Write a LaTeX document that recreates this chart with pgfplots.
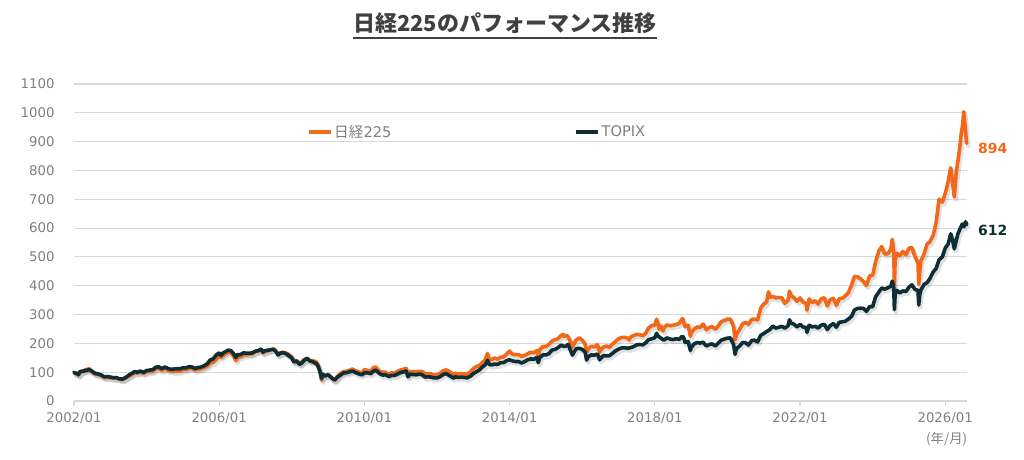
\documentclass[border=0pt]{standalone}
\usepackage{fontspec}
\setmainfont{DejaVu Sans}
\newfontfamily\jp{Noto Sans CJK JP}
\usepackage{pgfplots}
\usepackage{pgfplotstable}
\pgfplotsset{compat=1.18}
\definecolor{nkorange}{RGB}{242,104,24}
\definecolor{tpdark}{RGB}{13,46,52}
\definecolor{tickgray}{RGB}{128,128,128}
\definecolor{gridgray}{RGB}{217,217,217}
\definecolor{titlegray}{RGB}{64,64,64}

\pgfplotstableread{
t v
2002.00 100
2002.04 95
2002.08 95
2002.12 90
2002.17 100
2002.25 105
2002.33 109
2002.42 112
2002.50 101
2002.58 94
2002.67 91
2002.75 89
2002.83 82
2002.92 81
2003.00 82
2003.08 79
2003.17 80
2003.25 76
2003.33 74
2003.42 80
2003.50 86
2003.58 91
2003.67 98
2003.75 97
2003.83 101
2003.92 96
2004.00 102
2004.08 102
2004.17 104
2004.25 112
2004.33 113
2004.42 107
2004.50 113
2004.58 107
2004.67 105
2004.75 103
2004.83 104
2004.92 104
2005.00 110
2005.08 109
2005.17 113
2005.25 113
2005.33 108
2005.42 110
2005.50 112
2005.58 116
2005.67 121
2005.75 132
2005.83 134
2005.92 146
2006.00 159
2006.05 151
2006.10 158
2006.17 163
2006.25 170
2006.33 167
2006.40 155
2006.46 140
2006.50 152
2006.58 153
2006.67 160
2006.75 160
2006.83 162
2006.92 164
2007.00 172
2007.08 173
2007.15 180
2007.21 167
2007.25 172
2007.33 174
2007.42 178
2007.50 181
2007.56 174
2007.62 161
2007.67 167
2007.75 169
2007.83 167
2007.92 161
2008.00 153
2008.06 137
2008.12 141
2008.17 137
2008.21 129
2008.27 135
2008.33 143
2008.42 148
2008.50 140
2008.58 140
2008.67 136
2008.71 129
2008.75 115
2008.79 92
2008.82 72
2008.86 90
2008.92 86
2009.00 92
2009.08 82
2009.12 79
2009.18 71
2009.25 85
2009.33 94
2009.42 102
2009.50 103
2009.58 106
2009.67 111
2009.75 105
2009.83 102
2009.92 96
2010.00 109
2010.08 106
2010.17 103
2010.25 116
2010.31 118
2010.42 103
2010.50 100
2010.58 100
2010.67 92
2010.75 98
2010.83 97
2010.92 103
2011.00 108
2011.08 110
2011.15 114
2011.20 90
2011.25 102
2011.33 102
2011.42 101
2011.50 103
2011.58 103
2011.67 95
2011.75 95
2011.83 94
2011.92 90
2012.00 91
2012.08 96
2012.17 105
2012.25 108
2012.33 103
2012.42 95
2012.46 91
2012.50 96
2012.58 94
2012.67 95
2012.75 94
2012.83 93
2012.92 101
2013.00 112
2013.08 119
2013.17 123
2013.25 134
2013.33 142
2013.39 165
2013.44 145
2013.50 143
2013.58 149
2013.67 145
2013.75 152
2013.83 153
2013.92 163
2014.00 173
2014.08 162
2014.17 161
2014.25 161
2014.33 155
2014.42 158
2014.50 164
2014.58 169
2014.67 167
2014.75 175
2014.79 157
2014.83 178
2014.92 189
2015.00 189
2015.08 196
2015.17 208
2015.25 213
2015.33 216
2015.42 228
2015.48 231
2015.50 224
2015.58 228
2015.67 209
2015.73 187
2015.75 192
2015.83 211
2015.92 219
2016.00 211
2016.08 198
2016.12 169
2016.17 181
2016.25 190
2016.33 188
2016.42 195
2016.48 169
2016.50 176
2016.58 187
2016.67 191
2016.75 186
2016.83 197
2016.92 207
2017.00 216
2017.08 220
2017.17 221
2017.25 218
2017.30 212
2017.33 222
2017.42 227
2017.50 231
2017.58 230
2017.67 227
2017.75 235
2017.83 254
2017.92 262
2018.00 263
2018.05 284
2018.08 272
2018.12 249
2018.17 260
2018.23 243
2018.25 253
2018.33 264
2018.42 261
2018.50 263
2018.58 265
2018.67 269
2018.75 284
2018.77 286
2018.83 258
2018.92 263
2018.98 225
2019.00 236
2019.08 249
2019.17 257
2019.25 255
2019.33 267
2019.42 247
2019.50 255
2019.58 258
2019.67 249
2019.75 261
2019.83 275
2019.92 280
2020.00 284
2020.08 284
2020.17 259
2020.21 212
2020.25 231
2020.33 247
2020.42 268
2020.50 273
2020.58 266
2020.67 283
2020.75 284
2020.83 281
2020.92 323
2021.00 336
2021.08 344
2021.13 379
2021.17 360
2021.25 363
2021.33 358
2021.42 359
2021.50 358
2021.58 339
2021.67 349
2021.71 381
2021.75 366
2021.83 359
2021.92 346
2022.00 358
2022.08 344
2022.17 338
2022.19 315
2022.25 354
2022.33 342
2022.42 348
2022.50 336
2022.58 354
2022.67 358
2022.75 330
2022.83 351
2022.92 356
2023.00 332
2023.08 355
2023.17 357
2023.25 365
2023.33 375
2023.42 402
2023.50 432
2023.58 431
2023.67 424
2023.75 414
2023.83 401
2023.92 435
2024.00 435
2024.08 482
2024.17 520
2024.25 536
2024.33 510
2024.42 511
2024.50 526
2024.54 561
2024.58 519
2024.60 405
2024.62 490
2024.67 513
2024.75 504
2024.83 519
2024.92 507
2025.00 530
2025.08 533
2025.17 500
2025.25 480
2025.27 405
2025.30 450
2025.33 486
2025.42 511
2025.50 545
2025.58 553
2025.67 575
2025.75 620
2025.83 700
2025.92 690
2026.00 720
2026.08 760
2026.15 809
2026.20 760
2026.25 708
2026.30 790
2026.35 833
2026.40 880
2026.44 926
2026.48 960
2026.51 1004
2026.55 950
2026.59 894
}\nikkei

\pgfplotstableread{
t v
2002.00 100
2002.04 96
2002.08 97
2002.12 91
2002.17 103
2002.25 103
2002.33 106
2002.42 109
2002.50 103
2002.58 96
2002.67 94
2002.75 90
2002.83 84
2002.92 85
2003.00 83
2003.08 81
2003.17 81
2003.25 77
2003.33 76
2003.42 81
2003.50 89
2003.58 95
2003.67 102
2003.75 100
2003.83 104
2003.92 99
2004.00 106
2004.08 107
2004.17 109
2004.25 117
2004.33 119
2004.42 112
2004.50 118
2004.58 113
2004.67 110
2004.75 111
2004.83 112
2004.92 112
2005.00 115
2005.08 115
2005.17 119
2005.25 118
2005.33 113
2005.42 116
2005.50 118
2005.58 122
2005.67 129
2005.75 142
2005.83 146
2005.92 160
2006.00 167
2006.05 158
2006.10 166
2006.17 171
2006.25 177
2006.33 174
2006.40 163
2006.46 151
2006.50 161
2006.58 161
2006.67 167
2006.75 166
2006.83 166
2006.92 167
2007.00 173
2007.08 175
2007.15 180
2007.21 169
2007.25 174
2007.33 176
2007.42 178
2007.50 179
2007.56 172
2007.62 160
2007.67 165
2007.75 168
2007.83 165
2007.92 157
2008.00 149
2008.06 135
2008.12 139
2008.17 134
2008.21 127
2008.27 131
2008.33 140
2008.42 148
2008.50 139
2008.58 136
2008.67 130
2008.71 124
2008.75 112
2008.79 95
2008.82 78
2008.86 93
2008.92 87
2009.00 91
2009.08 83
2009.12 78
2009.18 73
2009.25 82
2009.33 89
2009.42 97
2009.50 98
2009.58 101
2009.67 104
2009.75 99
2009.83 95
2009.92 91
2010.00 97
2010.08 98
2010.17 95
2010.25 104
2010.31 107
2010.42 95
2010.50 90
2010.58 91
2010.67 85
2010.75 89
2010.83 89
2010.92 94
2011.00 99
2011.08 101
2011.15 104
2011.20 84
2011.25 93
2011.33 92
2011.42 91
2011.50 93
2011.58 92
2011.67 83
2011.75 84
2011.83 83
2011.92 80
2012.00 80
2012.08 84
2012.17 92
2012.25 95
2012.33 89
2012.42 82
2012.46 79
2012.50 84
2012.58 82
2012.67 83
2012.75 82
2012.83 80
2012.92 86
2013.00 95
2013.08 101
2013.17 108
2013.25 118
2013.33 126
2013.39 141
2013.44 127
2013.50 125
2013.58 128
2013.67 127
2013.75 133
2013.83 133
2013.92 140
2014.00 143
2014.08 139
2014.17 137
2014.25 137
2014.33 132
2014.42 137
2014.50 143
2014.58 146
2014.67 145
2014.75 151
2014.79 133
2014.83 151
2014.92 160
2015.00 160
2015.08 164
2015.17 177
2015.25 179
2015.33 185
2015.42 194
2015.50 189
2015.58 192
2015.61 197
2015.67 178
2015.73 159
2015.75 164
2015.83 181
2015.92 183
2016.00 179
2016.08 170
2016.12 142
2016.17 154
2016.25 160
2016.33 159
2016.42 163
2016.48 143
2016.50 147
2016.58 157
2016.67 157
2016.75 157
2016.83 165
2016.92 174
2017.00 180
2017.08 184
2017.17 185
2017.25 183
2017.33 185
2017.42 189
2017.50 195
2017.58 196
2017.67 195
2017.75 202
2017.83 213
2017.92 216
2018.00 220
2018.05 235
2018.08 226
2018.17 218
2018.25 211
2018.33 219
2018.42 215
2018.50 213
2018.58 216
2018.67 214
2018.75 224
2018.79 222
2018.83 203
2018.92 206
2018.98 175
2019.00 185
2019.08 198
2019.17 203
2019.25 201
2019.33 204
2019.42 191
2019.50 196
2019.58 198
2019.67 191
2019.75 201
2019.83 211
2019.92 215
2020.00 218
2020.08 219
2020.17 196
2020.21 162
2020.25 182
2020.33 190
2020.42 203
2020.50 202
2020.58 194
2020.67 210
2020.75 211
2020.83 205
2020.92 228
2021.00 234
2021.08 241
2021.17 248
2021.25 260
2021.33 253
2021.42 256
2021.50 259
2021.58 253
2021.67 261
2021.71 282
2021.75 270
2021.83 267
2021.92 257
2022.00 266
2022.08 257
2022.17 255
2022.19 238
2022.25 263
2022.33 257
2022.42 259
2022.50 253
2022.58 263
2022.67 266
2022.75 248
2022.83 261
2022.92 269
2023.00 256
2023.08 273
2023.17 275
2023.25 277
2023.33 284
2023.42 294
2023.50 316
2023.58 321
2023.67 322
2023.75 321
2023.83 311
2023.92 328
2024.00 327
2024.08 361
2024.17 378
2024.25 392
2024.33 388
2024.42 393
2024.50 398
2024.54 416
2024.58 397
2024.60 317
2024.62 370
2024.67 384
2024.75 375
2024.83 382
2024.92 380
2025.00 395
2025.08 403
2025.17 387
2025.25 384
2025.27 333
2025.30 370
2025.33 385
2025.42 405
2025.50 411
2025.58 425
2025.67 448
2025.75 460
2025.83 490
2025.92 500
2026.00 530
2026.08 545
2026.15 580
2026.20 560
2026.25 528
2026.30 555
2026.35 580
2026.40 595
2026.47 614
2026.52 605
2026.56 622
2026.59 612
}\topix

\begin{document}
\begin{tikzpicture}
\path[use as bounding box] (0,0) rectangle (768pt,345pt);
% title
\node[inner sep=0pt, anchor=base, text=titlegray, font=\jp\bfseries\fontsize{16.5}{18}\selectfont] (title) at (378.75pt,321pt) {日経225のパフォーマンス推移};
\draw[titlegray, line width=1.3pt] ([yshift=-4.5pt]title.base west) -- ([yshift=-4.5pt]title.base east);
% unit note
\node[anchor=center, text=tickgray, font=\jp\fontsize{10}{12}\selectfont] at (710pt,15.75pt) {(年/月)};
\begin{axis}[
  at={(55.5pt,44.25pt)}, anchor=south west,
  scale only axis, width=669.75pt, height=237.75pt,
  xmin=2002, xmax=2026.6, ymin=0, ymax=1100,
  clip=false,
  axis line style={draw=none},
  ymajorgrids, grid style={gridgray, line width=0.8pt},
  ytick={0,100,...,1100},
  xtick={2002,2006,2010,2014,2018,2022,2026},
  xticklabels={2002/01,2006/01,2010/01,2014/01,2018/01,2022/01,2026/01},
  tick pos=left,
  tick align=outside,
  ytick style={draw=none},
  xtick style={draw=gridgray, line width=0.8pt},
  major tick length=4pt,
  tick label style={text=tickgray, font=\fontsize{10}{12}\selectfont},
  yticklabel style={xshift=-7pt},
  xticklabel style={yshift=-1.5pt},
  /pgf/number format/1000 sep={},
  /pgf/number format/assume math mode=true,
  legend columns=2,
  legend style={at={(0.2605,0.8486)}, anchor=west, draw=none, fill=none,
    inner sep=0pt, nodes={inner sep=1pt},
    font=\fontsize{11}{13}\selectfont, text=tickgray,
    /tikz/every even column/.append style={column sep=136pt}},
  legend image code/.code={\draw[#1, line width=3pt, line cap=butt] (0pt,0pt) -- (16.5pt,0pt);},
  every axis plot/.append style={line join=round, line cap=round},
]
\addplot[forget plot, black, opacity=0.12, line width=3.4pt, transform canvas={shift={(1.2pt,-1.8pt)}}] table[x=t,y=v] {\nikkei};
\addplot[forget plot, black, opacity=0.12, line width=3.4pt, transform canvas={shift={(1.2pt,-1.8pt)}}] table[x=t,y=v] {\topix};
\addplot[nkorange, line width=2.7pt] table[x=t,y=v] {\nikkei};
\addlegendentry{{\jp 日経}225}
\addplot[tpdark, line width=2.7pt] table[x=t,y=v] {\topix};
\addlegendentry{TOPIX}
\node[anchor=west, text=nkorange, font=\bfseries\fontsize{10.5}{12}\selectfont, xshift=5pt, yshift=-3.5pt] at (axis cs:2026.59,894) {894};
\node[anchor=west, text=tpdark, font=\bfseries\fontsize{10.5}{12}\selectfont, xshift=5pt, yshift=-4pt] at (axis cs:2026.59,612) {612};
\end{axis}
\end{tikzpicture}
\end{document}
